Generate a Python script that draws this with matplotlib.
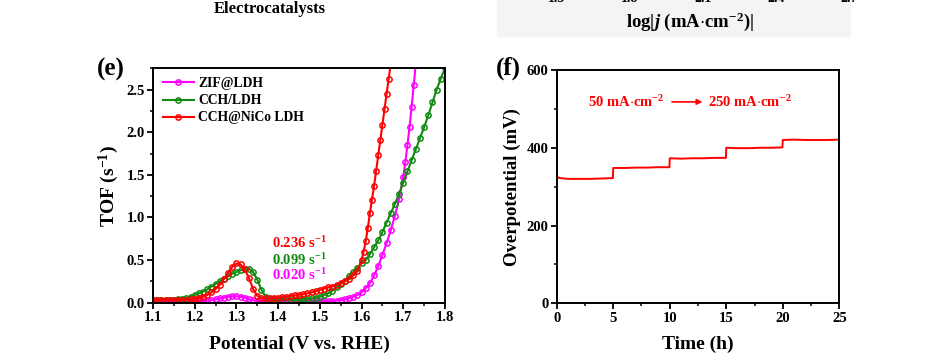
import matplotlib
matplotlib.use('Agg')
import matplotlib.pyplot as plt
from matplotlib.patches import Rectangle
from matplotlib.ticker import MultipleLocator

# ---- data ----
# (e) TOF vs potential, sampled every 10 mV
pot_zif = [1.10, 1.11, 1.12, 1.13, 1.14, 1.15, 1.16, 1.17, 1.18, 1.19, 1.20, 1.21, 1.22,
           1.23, 1.24, 1.25, 1.26, 1.27, 1.28, 1.29, 1.30, 1.31, 1.32, 1.33, 1.34, 1.35,
           1.36, 1.37, 1.38, 1.39, 1.40, 1.41, 1.42, 1.43, 1.44, 1.45, 1.46, 1.47, 1.48,
           1.49, 1.50, 1.51, 1.52, 1.53, 1.54, 1.55, 1.56, 1.57, 1.58, 1.59, 1.60, 1.61,
           1.62, 1.63, 1.64, 1.65, 1.66, 1.67, 1.68, 1.69, 1.70, 1.705, 1.71, 1.715, 1.72,
           1.725, 1.73]
tof_zif = [0.02, 0.02, 0.02, 0.02, 0.02, 0.02, 0.02, 0.02, 0.02, 0.02, 0.02, 0.02, 0.02,
           0.025, 0.03, 0.04, 0.05, 0.06, 0.07, 0.075, 0.075, 0.07, 0.06, 0.04, 0.03, 0.02,
           0.02, 0.02, 0.02, 0.02, 0.02, 0.02, 0.02, 0.02, 0.02, 0.02, 0.02, 0.02, 0.02,
           0.02, 0.02, 0.02, 0.02, 0.02, 0.025, 0.03, 0.04, 0.055, 0.07, 0.09, 0.12, 0.17,
           0.23, 0.32, 0.43, 0.56, 0.70, 0.85, 1.02, 1.22, 1.48, 1.65, 1.85, 2.06, 2.30,
           2.55, 2.80]

pot_cch = [1.10, 1.11, 1.12, 1.13, 1.14, 1.15, 1.16, 1.17, 1.18, 1.19, 1.20, 1.21, 1.22,
           1.23, 1.24, 1.25, 1.26, 1.27, 1.28, 1.29, 1.30, 1.31, 1.32, 1.33, 1.34, 1.35,
           1.36, 1.37, 1.38, 1.39, 1.40, 1.41, 1.42, 1.43, 1.44, 1.45, 1.46, 1.47, 1.48,
           1.49, 1.50, 1.51, 1.52, 1.53, 1.54, 1.55, 1.56, 1.57, 1.58, 1.59, 1.60, 1.61,
           1.62, 1.63, 1.64, 1.65, 1.66, 1.67, 1.68, 1.69, 1.70, 1.71, 1.72, 1.73, 1.74,
           1.75, 1.76, 1.77, 1.78, 1.79, 1.80]
tof_cch = [0.03, 0.03, 0.03, 0.03, 0.035, 0.035, 0.04, 0.045, 0.055, 0.07, 0.09, 0.11, 0.13,
           0.155, 0.19, 0.22, 0.25, 0.28, 0.31, 0.34, 0.36, 0.38, 0.40, 0.40, 0.36, 0.27,
           0.15, 0.07, 0.045, 0.04, 0.035, 0.035, 0.035, 0.035, 0.035, 0.04, 0.04, 0.045, 0.05,
           0.06, 0.07, 0.09, 0.11, 0.14, 0.18, 0.22, 0.26, 0.31, 0.36, 0.41, 0.46, 0.50,
           0.57, 0.65, 0.73, 0.83, 0.94, 1.05, 1.16, 1.28, 1.41, 1.54, 1.67, 1.80, 1.93,
           2.06, 2.20, 2.35, 2.50, 2.63, 2.75]

pot_nico = [1.10, 1.11, 1.12, 1.13, 1.14, 1.15, 1.16, 1.17, 1.18, 1.19, 1.20, 1.21, 1.22,
            1.23, 1.24, 1.25, 1.26, 1.27, 1.28, 1.29, 1.30, 1.31, 1.32, 1.33, 1.34, 1.35,
            1.36, 1.37, 1.38, 1.39, 1.40, 1.41, 1.42, 1.43, 1.44, 1.45, 1.46, 1.47, 1.48,
            1.49, 1.50, 1.51, 1.52, 1.53, 1.54, 1.55, 1.56, 1.57, 1.58, 1.59, 1.60, 1.605,
            1.61, 1.615, 1.62, 1.625, 1.63, 1.635, 1.64, 1.645, 1.65, 1.655, 1.66, 1.665, 1.67]
tof_nico = [0.03, 0.03, 0.03, 0.03, 0.03, 0.03, 0.03, 0.035, 0.035, 0.04, 0.045, 0.055, 0.07,
            0.09, 0.12, 0.16, 0.21, 0.28, 0.35, 0.42, 0.46, 0.45, 0.39, 0.29, 0.16, 0.08,
            0.055, 0.05, 0.05, 0.055, 0.06, 0.065, 0.07, 0.08, 0.085, 0.095, 0.10, 0.11, 0.12,
            0.135, 0.15, 0.165, 0.18, 0.19, 0.21, 0.23, 0.25, 0.28, 0.32, 0.37, 0.50, 0.60,
            0.72, 0.88, 1.05, 1.21, 1.37, 1.55, 1.73, 1.91, 2.09, 2.27, 2.45, 2.63, 2.80]

series_labels = ['ZIF@LDH', 'CCH/LDH', 'CCH@NiCo LDH']
series_colors = ['#ff00ff', '#118a11', '#ff0000']
tof_notes = ['0.236 s$^{-1}$', '0.099 s$^{-1}$', '0.020 s$^{-1}$']

# (f) chronopotentiometry, multi-step current
time_h = [0, 0.3, 1, 2, 3, 4, 4.97,
          5.0, 6, 7, 8, 9, 9.97,
          10.0, 11, 12, 13, 14, 14.97,
          15.0, 16, 17, 18, 19, 19.97,
          20.0, 21, 22, 23, 24, 25]
overpot = [325, 322, 320, 320, 320, 321, 322,
           348, 348, 349, 349, 350, 350,
           373, 372, 373, 373, 374, 374,
           400, 399, 399, 400, 400, 401,
           420, 421, 420, 420, 420, 421]

# partially visible panel above
top_ticklabels = ['1.5', '1.8', '2.1', '2.4', '2.7']

# ---- style ----
plt.rcParams['font.family'] = 'Liberation Serif'
plt.rcParams['font.weight'] = 'bold'
plt.rcParams['mathtext.fontset'] = 'custom'
plt.rcParams['mathtext.rm'] = 'Liberation Serif:bold'
plt.rcParams['mathtext.it'] = 'Liberation Serif:italic:bold'
plt.rcParams['mathtext.bf'] = 'Liberation Serif:bold'
plt.rcParams['axes.linewidth'] = 1.4


def style_axes(ax):
    ax.tick_params(which='major', direction='out', length=4, width=1.3,
                   labelsize=10.5, top=False, right=False, pad=2)
    ax.tick_params(which='minor', direction='out', length=2.5, width=1.1,
                   top=False, right=False)
    for lab in ax.get_xticklabels() + ax.get_yticklabels():
        lab.set_fontweight('bold')


fig = plt.figure(figsize=(9.46, 3.53), dpi=100)
W, H = 946.0, 353.0

# ---- leftovers of the upper panels ----
fig.text(270 / W, 1 - 9 / H, 'Electrocatalysts', fontsize=12, fontweight='bold',
         ha='center', va='center')
fig.patches.append(Rectangle((497 / W, 1 - 36 / H), 353 / W, 36 / H,
                             transform=fig.transFigure, color='#f4f4f4', zorder=0))
for lab, xp in zip(top_ticklabels, [557, 630, 703, 776, 849]):
    fig.text(xp / W, 1 + 1 / H, lab, fontsize=10, fontweight='bold',
             ha='center', va='center')
fig.text(690 / W, 1 - 22 / H, r'log|$j$ (mA$\cdot$cm$^{-2}$)|', fontsize=13.5,
         ha='center', va='center')

# ---- (e) ----
ax1 = fig.add_axes([153 / W, 1 - 302.7 / H, 292 / W, 234.4 / H])
curves = [(pot_zif, tof_zif), (pot_cch, tof_cch), (pot_nico, tof_nico)]
for (xv, yv), lab, col in zip(curves, series_labels, series_colors):
    ax1.plot(xv, yv, '-o', color=col, lw=1.5, ms=3.8, mfc='none', mew=1.1, label=lab)
ax1.set_xlim(1.1, 1.8)
ax1.set_ylim(0, 2.75)
ax1.xaxis.set_major_locator(MultipleLocator(0.1))
ax1.xaxis.set_minor_locator(MultipleLocator(0.05))
ax1.yaxis.set_major_locator(MultipleLocator(0.5))
ax1.yaxis.set_minor_locator(MultipleLocator(0.25))
style_axes(ax1)
ax1.set_xlabel('Potential (V vs. RHE)', fontsize=14, fontweight='bold')
ax1.set_ylabel('TOF (s$^{-1}$)', fontsize=14, fontweight='bold')
ax1.xaxis.set_label_coords(0.5, -0.14)
ax1.yaxis.set_label_coords(-0.11, 0.5)
ax1.legend(loc='upper left', bbox_to_anchor=(0.015, 0.985), frameon=False,
           fontsize=9.8, handlelength=2.3, handletextpad=0.3, labelspacing=0.3,
           borderaxespad=0, numpoints=1)
for note, col, yv in zip(tof_notes, series_colors[::-1], [0.70, 0.50, 0.32]):
    ax1.text(1.385, yv, note, color=col, fontsize=10.5, fontweight='bold',
             ha='left', va='center')
fig.text(111 / W, 1 - 69 / H, '(e)', fontsize=18, fontweight='bold',
         ha='center', va='center')

# ---- (f) ----
ax2 = fig.add_axes([556.7 / W, 1 - 303.3 / H, 282.6 / W, 233.3 / H])
ax2.plot(time_h, overpot, '-', color='#ff0000', lw=1.4)
ax2.set_xlim(0, 25)
ax2.set_ylim(0, 600)
ax2.xaxis.set_major_locator(MultipleLocator(5))
ax2.xaxis.set_minor_locator(MultipleLocator(2.5))
ax2.yaxis.set_major_locator(MultipleLocator(200))
ax2.yaxis.set_minor_locator(MultipleLocator(100))
style_axes(ax2)
ax2.set_xlabel('Time (h)', fontsize=14, fontweight='bold')
ax2.set_ylabel('Overpotential (mV)', fontsize=13.5, fontweight='bold')
ax2.xaxis.set_label_coords(0.5, -0.14)
ax2.yaxis.set_label_coords(-0.128, 0.5)
ax2.text(2.8, 518, r'50 mA$\cdot$cm$^{-2}$', color='#ff0000', fontsize=10.5,
         fontweight='bold', ha='left', va='center')
ax2.annotate('', xy=(12.9, 518), xytext=(10.2, 518),
             arrowprops=dict(arrowstyle='-|>', color='#ff0000', lw=1.2,
                             mutation_scale=8, shrinkA=0, shrinkB=0))
ax2.text(13.4, 518, r'250 mA$\cdot$cm$^{-2}$', color='#ff0000', fontsize=10.5,
         fontweight='bold', ha='left', va='center')
fig.text(508 / W, 1 - 68 / H, '(f)', fontsize=18, fontweight='bold',
         ha='center', va='center')

fig.savefig('out.png', dpi=100)
